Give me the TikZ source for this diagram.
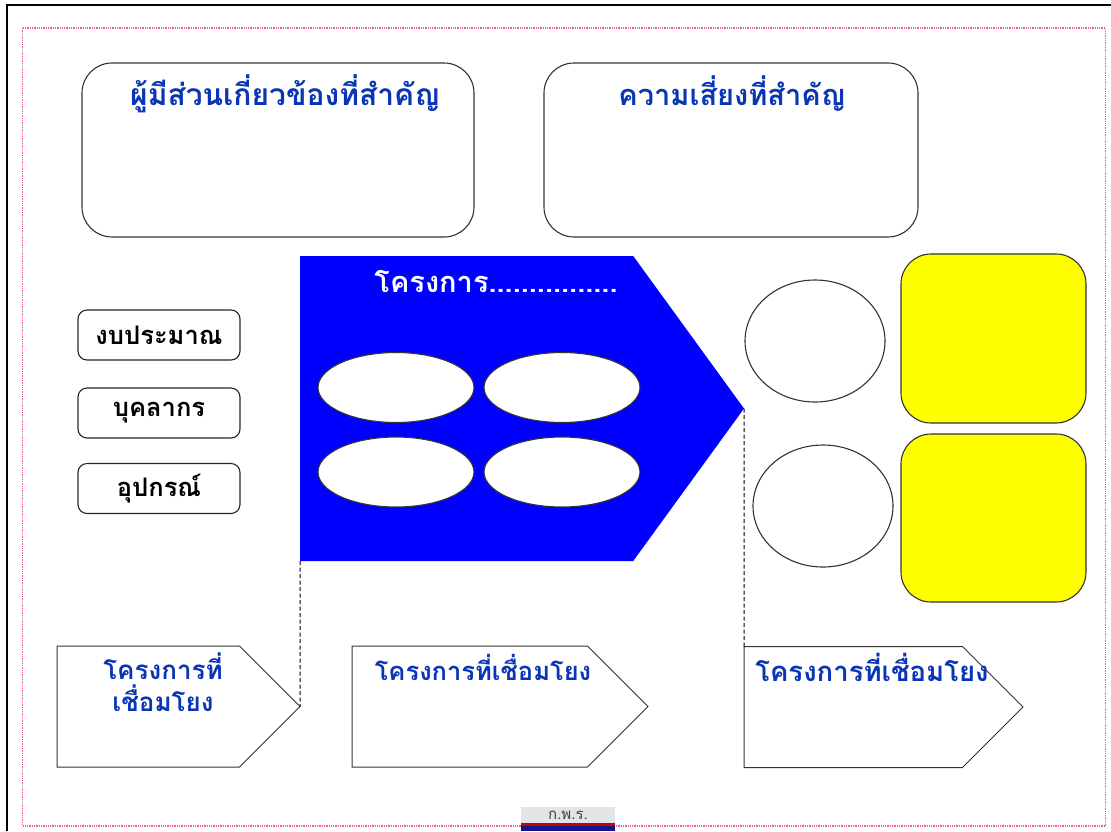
\documentclass[tikz,border=0pt]{standalone}
\usepackage{fontspec}
\setmainfont{Loma}[Script=Thai]
\usetikzlibrary{shapes.geometric,shapes.symbols}
\definecolor{titleblue}{HTML}{0A35B5}
\definecolor{pagered}{HTML}{E8608F}
\definecolor{logogray}{HTML}{E2E5E8}
\definecolor{logonavy}{HTML}{14148C}
\definecolor{goalyellow}{HTML}{FFFF00}
\definecolor{projectblue}{HTML}{0000FF}
\begin{document}
\begin{tikzpicture}[x=1pt,y=-1pt]
   \tikzstyle{every node}=[inner sep=0pt, outer sep=0pt]
   \tikzstyle{bigbox}=[draw=black!80, line width=1.1pt, rounded corners=30pt, fill=white]
   \tikzstyle{smallbox}=[draw=black!85, line width=1.1pt, rounded corners=9pt, minimum width=162pt, minimum height=50pt, font=\fontsize{25.5}{30}\selectfont\bfseries]
   \tikzstyle{title}=[text=titleblue, font=\fontsize{30}{36}\selectfont\bfseries, align=center]
   \tikzstyle{oval}=[draw=black!80, line width=1.1pt, ellipse, fill=white]
   \tikzstyle{goal}=[bigbox, fill=goalyellow, minimum width=185pt]
   \tikzstyle{linkarrow}=[draw=black!80, line width=1pt, signal, signal to=east, signal pointer angle=90, minimum height=121pt, anchor=west]
   \tikzstyle{dashline}=[draw=black, line width=1pt, dash pattern=on 4pt off 2.5pt]

\useasboundingbox (0,0) rectangle (1111,831);
\fill[white] (0,0) rectangle (1111,831);
\draw[line width=2.5pt] (7,831) -- (7,5) -- (1111,5);
\draw[pagered, line width=1.3pt, densely dotted] (22.5,28) rectangle (1105.5,826);

\node[bigbox, minimum width=392pt, minimum height=174pt] (stakeholders) at (278,150) {};
\node[bigbox, minimum width=374pt, minimum height=174pt] (risks) at (731,150) {};
\node[title] (stakeholdertitle) at (285,94) {ผู้มีส่วนเกี่ยวข้องที่สำคัญ};
\node[title, font=\fontsize{29}{36}\selectfont\bfseries] (risktitle) at (732,94) {ความเสี่ยงที่สำคัญ};

\node[smallbox] (budget) at (159,335) {งบประมาณ};
\node[smallbox] (staff) at (159,413) {บุคลากร};
\node[smallbox] (equipment) at (159,488.5) {อุปกรณ์};

\node[signal, signal to=east, signal pointer angle=108, fill=projectblue, minimum width=444pt, minimum height=305pt, anchor=west] (project) at (300,408.5) {};
\node[text=white, font=\fontsize{29}{34}\selectfont\bfseries] (projecttitle) at (496,281) {โครงการ................};
\node[oval, minimum width=156pt, minimum height=70pt] (activityA) at (396,387.5) {};
\node[oval, minimum width=156pt, minimum height=70pt] (activityB) at (562,387.5) {};
\node[oval, minimum width=156pt, minimum height=70pt] (activityC) at (396,472) {};
\node[oval, minimum width=156pt, minimum height=70pt] (activityD) at (562,472) {};

\node[oval, minimum width=140pt, minimum height=122pt] (resultA) at (815,341) {};
\node[oval, minimum width=140pt, minimum height=122pt] (resultB) at (823,506) {};
\node[goal, minimum height=169pt] (goalA) at (993.5,338.5) {};
\node[goal, minimum height=168pt] (goalB) at (993.5,518) {};

\node[linkarrow, minimum width=243pt] (linkA) at (57,706.5) {};
\node[linkarrow, minimum width=296pt] (linkB) at (352,706.5) {};
\node[linkarrow, minimum width=279pt] (linkC) at (744,707) {};
\node[title, font=\fontsize{26}{32}\selectfont\bfseries] (linkAtitle) at (163,682) {โครงการที่\\เชื่อมโยง};
\node[title, font=\fontsize{25.5}{30}\selectfont\bfseries] (linkBtitle) at (483,667) {โครงการที่เชื่อมโยง};
\node[title, font=\fontsize{27.5}{30}\selectfont\bfseries] (linkCtitle) at (872,667) {โครงการที่เชื่อมโยง};

\draw[dashline] (project.south west) -- (linkA.east);
\draw[dashline] (project.east) -- (linkC.north west);

\node[fill=logogray, minimum width=94pt, minimum height=16pt, anchor=north, font=\fontsize{15}{17}\selectfont, text=black!75] (logotop) at (568,807) {ก.พ.ร.};
\node[fill=red!80!black, minimum width=94pt, minimum height=3pt, anchor=north] (logostripe) at (logotop.south) {};
\node[fill=logonavy, minimum width=94pt, minimum height=5pt, anchor=north] (logobase) at (logostripe.south) {};
\end{tikzpicture}
\end{document}
